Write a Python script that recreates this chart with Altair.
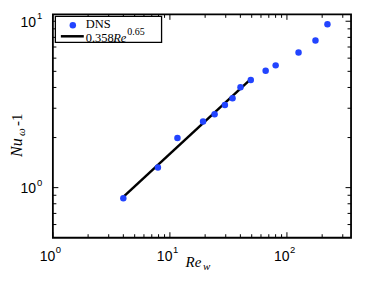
import altair as alt
import pandas as pd

# ---- data ----
re_w = [4.0, 7.9, 11.6, 19.2, 24.1, 29.5, 34.3, 40.1, 49.1, 65.8, 80.1, 125.7, 175.3, 221.9]
nu_w = [0.863, 1.32, 1.99, 2.50, 2.76, 3.14, 3.44, 4.01, 4.43, 5.04, 5.43, 6.49, 7.66, 9.59]
fit_re = [4.0, 48.0]
fit_nu = [0.88, 4.43]

x_major = [1, 10, 100]
x_minor = [2, 3, 4, 5, 6, 7, 8, 9, 20, 30, 40, 50, 60, 70, 80, 90, 200, 300]
y_major = [1, 10]
y_minor = [0.6, 0.7, 0.8, 0.9, 2, 3, 4, 5, 6, 7, 8, 9]
x_tick_base = ["10", "10", "10"]
x_tick_exp = ["0", "1", "2"]
y_tick_base = ["10", "10"]
y_tick_exp = ["0", "1"]

legend_labels = ["DNS", "0.358", "Re", "0.65"]
x_title = ["Re", "w"]
y_title = ["Nu", "\u03c9", "-1"]

W, H = 299, 224
XD = [1, 353]
YD = [0.5, 11]
BLUE = "#2244ff"


def xs():
    return alt.Scale(type="log", domain=XD, nice=False)


def ys():
    return alt.Scale(type="log", domain=YD, nice=False)


pts = pd.DataFrame({"Re": re_w, "Nu": nu_w})
fit = pd.DataFrame({"Re": fit_re, "Nu": fit_nu})

points = alt.Chart(pts).mark_circle(size=42, color=BLUE, opacity=1).encode(
    x=alt.X("Re:Q", scale=xs(), axis=None),
    y=alt.Y("Nu:Q", scale=ys(), axis=None),
)
line = alt.Chart(fit).mark_line(color="black", strokeWidth=2.5).encode(
    x=alt.X("Re:Q", scale=xs(), axis=None),
    y=alt.Y("Nu:Q", scale=ys(), axis=None),
)


def xticks(vals, length):
    d = pd.DataFrame({"v": vals})
    bottom = alt.Chart(d).mark_rule(color="black", strokeWidth=1).encode(
        x=alt.X("v:Q", scale=xs(), axis=None), y=alt.value(H), y2=alt.value(H - length))
    top = alt.Chart(d).mark_rule(color="black", strokeWidth=1).encode(
        x=alt.X("v:Q", scale=xs(), axis=None), y=alt.value(0), y2=alt.value(length))
    return [bottom, top]


def yticks(vals, length):
    d = pd.DataFrame({"v": vals})
    left = alt.Chart(d).mark_rule(color="black", strokeWidth=1).encode(
        y=alt.Y("v:Q", scale=ys(), axis=None), x=alt.value(0), x2=alt.value(length))
    right = alt.Chart(d).mark_rule(color="black", strokeWidth=1).encode(
        y=alt.Y("v:Q", scale=ys(), axis=None), x=alt.value(W), x2=alt.value(W - length))
    return [left, right]


ticks = xticks(x_major, 5.5) + xticks(x_minor, 3.5) + yticks(y_major, 5.5) + yticks(y_minor, 3.5)

xl = pd.DataFrame({"v": x_major, "b": x_tick_base, "e": x_tick_exp})
yl = pd.DataFrame({"v": y_major, "b": y_tick_base, "e": y_tick_exp})
SANS = "Liberation Sans"
SERIF = "Liberation Serif"

xlab_b = alt.Chart(xl).mark_text(align="right", baseline="alphabetic", font=SANS, fontSize=14, dx=2.5).encode(
    x=alt.X("v:Q", scale=xs(), axis=None), y=alt.value(H + 23), text="b:N")
xlab_e = alt.Chart(xl).mark_text(align="left", baseline="alphabetic", font=SANS, fontSize=9.5, dx=3).encode(
    x=alt.X("v:Q", scale=xs(), axis=None), y=alt.value(H + 15), text="e:N")
ylab_b = alt.Chart(yl).mark_text(align="right", baseline="alphabetic", font=SANS, fontSize=14, dy=5.5).encode(
    y=alt.Y("v:Q", scale=ys(), axis=None), x=alt.value(-17), text="b:N")
ylab_e = alt.Chart(yl).mark_text(align="left", baseline="alphabetic", font=SANS, fontSize=9.5, dy=-2).encode(
    y=alt.Y("v:Q", scale=ys(), axis=None), x=alt.value(-16), text="e:N")


def txt(s, x, y, size, font=SERIF, style="normal", angle=0, align="left"):
    kw = dict(align=align, baseline="alphabetic", font=font, fontSize=size, fontStyle=style)
    if angle:
        kw["angle"] = angle
    return alt.Chart(pd.DataFrame({"t": [s]})).mark_text(**kw).encode(
        x=alt.value(x), y=alt.value(y), text="t:N")


one = pd.DataFrame({"k": [0]})
leg_box = alt.Chart(one).mark_rect(fill="white", stroke="black", strokeWidth=1.3).encode(
    x=alt.value(2.5), x2=alt.value(109), y=alt.value(2), y2=alt.value(28))
leg_dot = alt.Chart(one).mark_circle(size=42, color=BLUE, opacity=1).encode(
    x=alt.value(20), y=alt.value(11))
leg_line = alt.Chart(one).mark_rule(color="black", strokeWidth=2.5).encode(
    x=alt.value(8), x2=alt.value(31), y=alt.value(22))

texts = [
    txt(legend_labels[0], 33, 13.5, 12.5),
    txt(legend_labels[1], 33, 27.3, 12.5),
    txt(legend_labels[2], 60.5, 27.3, 12.5, style="italic"),
    txt(legend_labels[3], 74.5, 21, 10),
    txt(x_title[0], 133, 253, 15, style="italic"),
    txt(x_title[1], 150.5, 256, 11, style="italic"),
    txt(y_title[0], -31, 143, 16, style="italic", angle=270),
    txt(y_title[1], -28, 122, 11, style="italic", angle=270),
    txt(y_title[2], -31, 112, 15, angle=270),
]

chart = alt.layer(
    *ticks, line, points, leg_box, leg_dot, leg_line,
    xlab_b, xlab_e, ylab_b, ylab_e, *texts,
).properties(
    width=W, height=H,
    autosize=alt.AutoSizeParams(type="none"),
    padding={"left": 45, "top": 6, "right": 15, "bottom": 35},
).configure_view(stroke="black", strokeWidth=1.8)

chart.save("out.html", embed_options={"renderer": "svg", "actions": False})
